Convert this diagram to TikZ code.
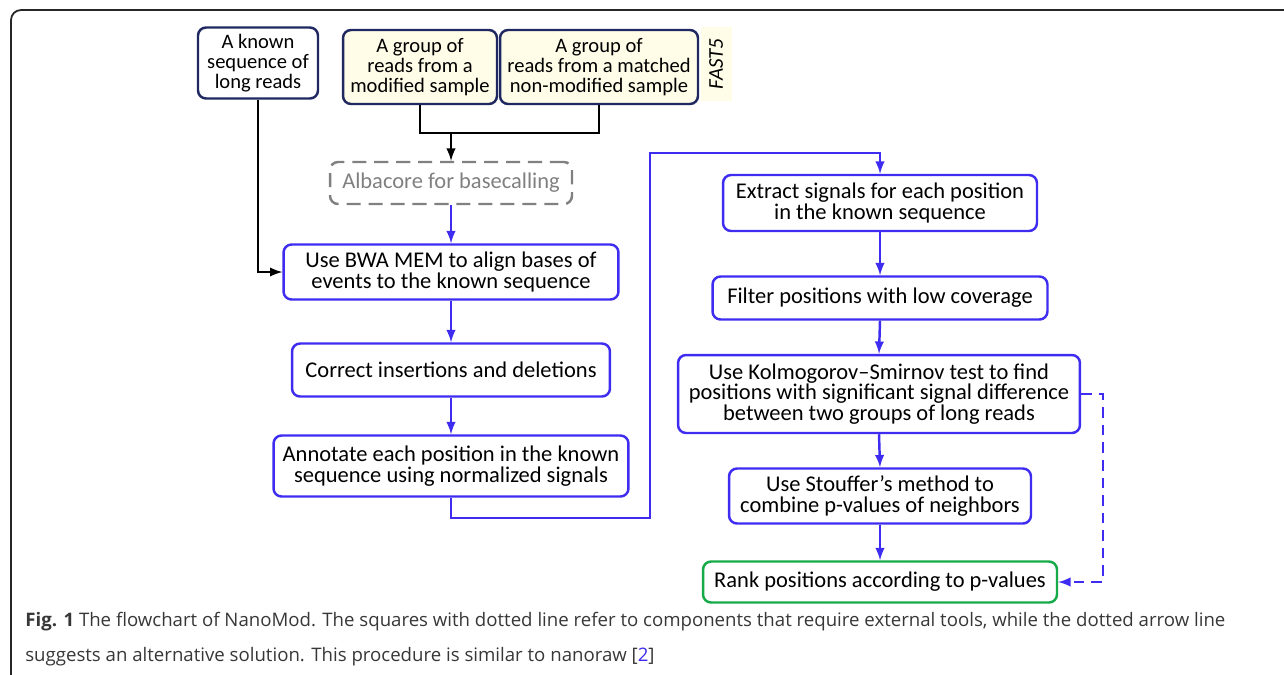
\documentclass[tikz,border=0pt]{standalone}
\usepackage{fontspec}
\setmainfont{Carlito}
\newfontfamily\capfont{Open Sans}
\definecolor{navy}{RGB}{31,40,96}
\definecolor{flowblue}{RGB}{62,44,240}
\definecolor{rankgreen}{RGB}{22,170,72}
\definecolor{cream}{RGB}{255,253,232}
\definecolor{capgray}{RGB}{55,55,55}
\begin{document}
\begin{tikzpicture}[>=latex,x=0.02cm,y=-0.02cm,
    inbox/.style={draw=navy,line width=1.4pt,rounded corners=0.16cm,align=center,inner sep=0pt,font=\fontsize{11.7}{11.4}\selectfont},
    stepbox/.style={draw=flowblue,line width=1.4pt,rounded corners=0.16cm,align=center,inner sep=0pt,font=\fontsize{12.8}{11.8}\selectfont},
    toolbox/.style={draw=gray,line width=1.4pt,dash pattern=on 8pt off 4.5pt,rounded corners=0.16cm,align=center,inner sep=0pt,text=gray,font=\fontsize{12.8}{11.8}\selectfont},
    flow/.style={->,draw=flowblue,line width=1.4pt},
    blk/.style={->,line width=1.4pt}]
\useasboundingbox (0,0) rectangle (1284,674);
% frame
\draw[line width=1pt,black!85,rounded corners=0.2cm] (11,720) |- (1320,10);
% input
\node[inbox,minimum width=2.4cm,minimum height=1.42cm] (known) at (258,63) {A known\\sequence of\\long reads};
\node[inbox,fill=cream,minimum width=3.08cm,minimum height=1.48cm] (grpa) at (420,67) {A group of\\reads from a\\modified sample};
\node[inbox,fill=cream,minimum width=3.96cm,minimum height=1.48cm] (grpb) at (599,67) {A group of\\reads from a matched\\non-modified sample};
\node[fill=cream,rotate=90,minimum width=1.48cm,minimum height=0.62cm,inner sep=0pt,font=\fontsize{12}{12}\selectfont\itshape] (fast) at (716,64) {FAST5};
% left column
\node[toolbox,minimum width=4.84cm,minimum height=0.84cm] (alba) at (451,183) {Albacore for basecalling};
\node[stepbox,minimum width=6.7cm,minimum height=1.1cm] (bwa) at (451,272) {Use BWA MEM to align bases of\\events to the known sequence};
\node[stepbox,minimum width=6.36cm,minimum height=1.06cm] (corr) at (451,370) {Correct insertions and deletions};
\node[stepbox,minimum width=7.1cm,minimum height=1.22cm] (annot) at (451,466) {Annotate each position in the known\\sequence using normalized signals};
% right column
\node[stepbox,minimum width=6.28cm,minimum height=1.12cm] (extr) at (880,203) {Extract signals for each position\\in the known sequence};
\node[stepbox,minimum width=6.7cm,minimum height=0.86cm] (filt) at (880,298) {Filter positions with low coverage};
\node[stepbox,minimum width=8.04cm,minimum height=1.56cm] (ks) at (879,394) {Use Kolmogorov--Smirnov test to find\\positions with significant signal difference\\between two groups of long reads};
\node[stepbox,minimum width=6.04cm,minimum height=1.1cm] (stouf) at (880,496) {Use Stouffer’s method to\\combine p-values of neighbors};
\node[stepbox,draw=rankgreen,minimum width=7.08cm,minimum height=0.82cm] (rank) at (880,582) {Rank positions according to p-values};
% connectors
\coordinate (brk) at (451,133);
\draw[line width=1.4pt] (grpa.south) |- (brk) -| (grpb.south);
\draw[blk] (brk) -- (alba.north);
\draw[blk] (known.south) |- (bwa.west);
\foreach \a/\b in {alba/bwa, bwa/corr, corr/annot, extr/filt, filt/ks, ks/stouf, stouf/rank}
{
    \draw[flow] (\a.south) -- (\b.north);
}
\coordinate (lo) at (650,518);
\coordinate (hi) at (650,153);
\draw[flow] (annot.south) |- (lo) -- (hi) -| (extr.north);
\coordinate (dsh) at (1103,394);
\draw[flow,dash pattern=on 6pt off 4pt] (ks.east) -- (dsh) |- (rank.east);
% caption
\node[anchor=north west,inner sep=0pt,align=left,text=capgray,font=\capfont\fontsize{10.6}{19.8}\selectfont] (cap) at (25,612)
{\textbf{Fig. 1} The flowchart of NanoMod. The squares with dotted line refer to components that require external tools, while the dotted arrow line\\
suggests an alternative solution. This procedure is similar to nanoraw [\textcolor{flowblue}{2}]};
\end{tikzpicture}
\end{document}
